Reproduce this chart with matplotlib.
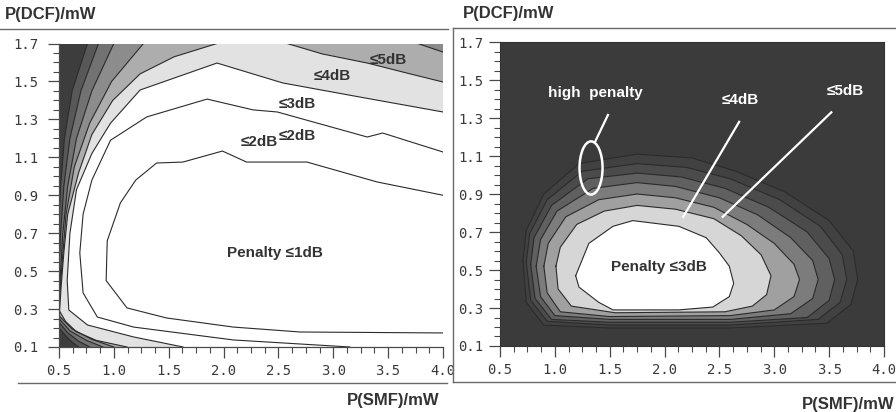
import numpy as np
import matplotlib
matplotlib.use("Agg")
import matplotlib.pyplot as plt
from matplotlib.patches import Ellipse
from matplotlib.lines import Line2D
from matplotlib.ticker import MultipleLocator, FormatStrFormatter

plt.rcParams["font.family"] = ["Liberation Sans", "DejaVu Sans"]

# ---- left panel: iso-penalty lines (P_SMF, P_DCF) ----
L1_X = [4.0, 2.70, 2.09, 1.48, 1.12, 0.93, 0.94, 1.06, 1.20, 1.39, 1.63, 1.99, 2.21, 2.76, 3.40, 4.0]
L1_Y = [0.174, 0.179, 0.205, 0.253, 0.306, 0.45, 0.66, 0.86, 0.98, 1.07, 1.075, 1.133, 1.075, 1.075, 0.97, 0.90]

L2_X = [3.15, 2.09, 1.18, 0.85, 0.72, 0.69, 0.72, 0.80, 0.97, 1.30, 1.85, 2.27, 2.49, 3.31, 3.45, 4.0]
L2_Y = [0.10, 0.137, 0.205, 0.258, 0.385, 0.596, 0.80, 0.98, 1.19, 1.313, 1.407, 1.35, 1.339, 1.207, 1.228, 1.128]

L3_X = [1.63, 1.18, 0.76, 0.59, 0.575, 0.60, 0.66, 0.80, 0.97, 1.24, 1.94, 2.54, 3.24, 4.0]
L3_Y = [0.10, 0.153, 0.216, 0.295, 0.45, 0.70, 0.93, 1.12, 1.28, 1.455, 1.597, 1.492, 1.418, 1.339]

L4_X = [1.94, 1.55, 1.24, 0.99, 0.80, 0.68, 0.58, 0.545, 0.52, 0.51, 0.505, 0.56, 0.66, 0.84, 1.12]
L4_Y = [1.70, 1.63, 1.54, 1.40, 1.22, 1.02, 0.80, 0.60, 0.42, 0.33, 0.29, 0.235, 0.18, 0.135, 0.10]
L4R_X = [2.58, 2.90, 3.31, 3.70, 4.0]
L4R_Y = [1.70, 1.645, 1.597, 1.54, 1.497]

L5_X = [1.27, 0.98, 0.78, 0.64, 0.565, 0.53, 0.51, 0.50]
L5_Y = [1.70, 1.50, 1.28, 1.05, 0.80, 0.55, 0.40, 0.32]
L5C_X = [0.50, 0.62, 0.80, 1.00]
L5C_Y = [0.265, 0.195, 0.14, 0.10]
L5R_X = [3.77, 4.0]
L5R_Y = [1.70, 1.655]

L6_X = [1.00, 0.80, 0.66, 0.58, 0.535, 0.51, 0.50]
L6_Y = [1.70, 1.45, 1.20, 0.95, 0.70, 0.45, 0.35]
L6C_X = [0.50, 0.60, 0.75, 0.90]
L6C_Y = [0.25, 0.185, 0.135, 0.10]

L7_X = [0.86, 0.70, 0.60, 0.545, 0.515, 0.50]
L7_Y = [1.70, 1.45, 1.20, 0.95, 0.70, 0.50]
L7C_X = [0.50, 0.58, 0.68, 0.78]
L7C_Y = [0.23, 0.175, 0.13, 0.10]

L8_X = [0.76, 0.62, 0.55, 0.515, 0.50]
L8_Y = [1.70, 1.45, 1.20, 0.95, 0.75]
L8C_X = [0.50, 0.56, 0.62, 0.68]
L8C_Y = [0.20, 0.16, 0.125, 0.10]

# ---- right panel: closed iso-penalty rings, 3 dB (inner) outwards ----
R3_X = [1.19, 1.31, 1.53, 1.71, 2.13, 2.38, 2.50, 2.59, 2.63, 2.59, 2.44, 2.13, 1.53, 1.40, 1.22]
R3_Y = [0.47, 0.64, 0.73, 0.76, 0.73, 0.67, 0.59, 0.52, 0.43, 0.36, 0.305, 0.29, 0.29, 0.33, 0.41]
R4_X = [1.01, 1.05, 1.20, 1.45, 1.75, 2.10, 2.45, 2.70, 2.88, 2.97, 2.93, 2.80, 2.55, 1.55, 1.15, 1.03]
R4_Y = [0.52, 0.62, 0.74, 0.81, 0.84, 0.82, 0.77, 0.68, 0.58, 0.47, 0.37, 0.31, 0.28, 0.275, 0.31, 0.40]
R5_X = [0.90, 0.94, 1.10, 1.40, 1.75, 2.10, 2.45, 2.75, 3.00, 3.18, 3.23, 3.18, 3.00, 2.60, 1.50, 1.05, 0.93]
R5_Y = [0.52, 0.64, 0.78, 0.87, 0.90, 0.88, 0.83, 0.74, 0.64, 0.53, 0.45, 0.36, 0.29, 0.26, 0.255, 0.28, 0.38]
R6_X = [0.83, 0.87, 1.02, 1.35, 1.75, 2.10, 2.50, 2.85, 3.15, 3.35, 3.40, 3.35, 3.15, 2.60, 1.50, 1.00, 0.87]
R6_Y = [0.52, 0.66, 0.81, 0.93, 0.96, 0.94, 0.88, 0.79, 0.67, 0.55, 0.45, 0.35, 0.27, 0.24, 0.24, 0.26, 0.36]
R7_X = [0.78, 0.81, 0.97, 1.30, 1.75, 2.15, 2.55, 2.95, 3.30, 3.50, 3.55, 3.50, 3.30, 2.60, 1.50, 0.97, 0.82]
R7_Y = [0.53, 0.67, 0.84, 0.98, 1.01, 0.99, 0.93, 0.83, 0.70, 0.56, 0.45, 0.34, 0.25, 0.225, 0.225, 0.24, 0.35]
R8_X = [0.74, 0.77, 0.93, 1.25, 1.75, 2.20, 2.60, 3.05, 3.42, 3.62, 3.66, 3.60, 3.40, 2.60, 1.50, 0.93, 0.78]
R8_Y = [0.54, 0.69, 0.87, 1.02, 1.06, 1.04, 0.98, 0.87, 0.73, 0.58, 0.45, 0.33, 0.24, 0.21, 0.21, 0.23, 0.34]
R9_X = [0.71, 0.74, 0.90, 1.22, 1.75, 2.25, 2.65, 3.10, 3.50, 3.72, 3.76, 3.70, 3.48, 2.60, 1.50, 0.90, 0.74]
R9_Y = [0.55, 0.71, 0.90, 1.06, 1.11, 1.09, 1.02, 0.91, 0.76, 0.60, 0.45, 0.32, 0.22, 0.195, 0.195, 0.21, 0.33]

XMIN, XMAX, YMIN, YMAX = 0.5, 4.0, 0.1, 1.7
LINE_C = "#2b2b2b"
TICK_C = "#4a4a4a"


def style_axes(ax, ypad):
    ax.set_xlim(XMIN, XMAX)
    ax.set_ylim(YMIN, YMAX)
    ax.xaxis.set_major_locator(MultipleLocator(0.5))
    ax.xaxis.set_minor_locator(MultipleLocator(0.125))
    ax.yaxis.set_major_locator(MultipleLocator(0.2, offset=0.1))
    ax.yaxis.set_minor_locator(MultipleLocator(0.05))
    ax.xaxis.set_major_formatter(FormatStrFormatter("%.1f"))
    ax.yaxis.set_major_formatter(FormatStrFormatter("%.1f"))
    ax.tick_params(which="major", length=8, width=0.9, color=TICK_C,
                   labelcolor="#3a3a3a", labelsize=10)
    ax.tick_params(which="minor", length=4.5, width=0.8, color=TICK_C)
    ax.tick_params(axis="y", which="major", pad=ypad)
    ax.tick_params(axis="x", which="major", pad=4)
    for lab in ax.get_xticklabels() + ax.get_yticklabels():
        lab.set_family("DejaVu Sans Mono")


def region(*pts):
    xs, ys = [], []
    for px, py in pts:
        xs += list(px)
        ys += list(py)
    return xs, ys


fig = plt.figure(figsize=(8.96, 4.12), dpi=100)
fig.patch.set_facecolor("white")

# ================= left panel =================
ax1 = fig.add_axes([0.0658, 0.1578, 0.4286, 0.7366])
ax1.set_facecolor("#3d3d3d")
corner = ([4.0, 4.0], [0.1, 1.7])
fills = [
    (region((L8_X, L8_Y), (L8C_X, L8C_Y), corner), "#585858"),
    (region((L7_X, L7_Y), (L7C_X, L7C_Y), corner), "#727272"),
    (region((L6_X, L6_Y), (L6C_X, L6C_Y), corner), "#8c8c8c"),
    (region((L5_X, L5_Y), (L5C_X, L5C_Y), ([4.0], [0.1]), (L5R_X[::-1], L5R_Y[::-1])), "#adadad"),
    (region((L4_X, L4_Y), ([4.0], [0.1]), (L4R_X[::-1], L4R_Y[::-1])), "#e2e2e2"),
    (region((L3_X, L3_Y), ([4.0], [0.1])), "white"),
]
for (fx, fy), col in fills:
    ax1.fill(fx, fy, color=col, lw=0, zorder=1)

for lx, ly in [(L1_X, L1_Y), (L2_X, L2_Y), (L3_X, L3_Y), (L4_X, L4_Y), (L4R_X, L4R_Y),
               (L5_X, L5_Y), (L5C_X, L5C_Y), (L5R_X, L5R_Y), (L6_X, L6_Y), (L6C_X, L6C_Y),
               (L7_X, L7_Y), (L7C_X, L7C_Y), (L8_X, L8_Y), (L8C_X, L8C_Y)]:
    ax1.plot(lx, ly, color=LINE_C, lw=0.8, zorder=2)

txt = dict(fontsize=11, fontweight="bold", color="#333333", ha="center", va="center", zorder=3)
ax1.text(3.50, 1.613, "≤5dB", **txt)
ax1.text(2.99, 1.53, "≤4dB", **txt)
ax1.text(2.67, 1.38, "≤3dB", **txt)
ax1.text(2.33, 1.18, "≤2dB", **txt)
ax1.text(2.67, 1.21, "≤2dB", **txt)
ax1.text(2.47, 0.595, "Penalty ≤1dB", **txt)

style_axes(ax1, ypad=7)
for s in ("top", "right"):
    ax1.spines[s].set_visible(False)
for s in ("left", "bottom"):
    ax1.spines[s].set_color(TICK_C)
    ax1.spines[s].set_linewidth(0.9)

# ================= right panel =================
ax2 = fig.add_axes([0.558, 0.1602, 0.4286, 0.7378])
ax2.set_facecolor("#3b3b3b")
rings = [
    (R9_X, R9_Y, "#414141"),
    (R8_X, R8_Y, "#4b4b4b"),
    (R7_X, R7_Y, "#606060"),
    (R6_X, R6_Y, "#7c7c7c"),
    (R5_X, R5_Y, "#a0a0a0"),
    (R4_X, R4_Y, "#d6d6d6"),
    (R3_X, R3_Y, "white"),
]
for rx, ry, col in rings:
    ax2.fill(rx, ry, color=col, lw=0, zorder=1)
    ax2.plot(rx + rx[:1], ry + ry[:1], color=LINE_C, lw=0.8, zorder=2)

ax2.text(1.95, 0.516, "Penalty ≤3dB", **txt)
wtxt = dict(fontsize=11, fontweight="bold", color="white", ha="center", va="center", zorder=4)
ax2.text(1.37, 1.43, "high  penalty", **wtxt)
ax2.text(2.69, 1.395, "≤4dB", **wtxt)
ax2.text(3.65, 1.44, "≤5dB", **wtxt)
ax2.add_patch(Ellipse((1.33, 1.037), 0.21, 0.28, fill=False, ec="white", lw=1.8, zorder=4))
ax2.plot([1.366, 1.484], [1.174, 1.316], color="white", lw=1.6, zorder=4)
ax2.plot([2.17, 2.68], [0.78, 1.28], color="white", lw=1.6, zorder=4)
ax2.plot([2.53, 3.52], [0.78, 1.33], color="white", lw=1.6, zorder=4)

style_axes(ax2, ypad=4)
for s in ax2.spines.values():
    s.set_color("#333333")
    s.set_linewidth(0.8)

# ---- axis titles and scan frame lines ----
ttl = dict(fontsize=12, fontweight="bold", color="#333333", va="center")
fig.text(0.0056, 0.966, "P(DCF)/mW", ha="left", **ttl)
fig.text(0.517, 0.968, "P(DCF)/mW", ha="left", **ttl)
fig.text(0.491, 0.029, "P(SMF)/mW", ha="right", **ttl)
fig.text(0.998, 0.017, "P(SMF)/mW", ha="right", **ttl)

fc = "#6a6a6a"
fig.add_artist(Line2D([0.0, 0.500], [0.9296, 0.9296], color=fc, lw=1.0))
fig.add_artist(Line2D([0.020, 0.499], [0.0704, 0.0704], color=fc, lw=1.0))
fig.add_artist(Line2D([0.5056, 1.0], [0.932, 0.932], color=fc, lw=1.0))
fig.add_artist(Line2D([0.5056, 1.0], [0.0728, 0.0728], color=fc, lw=1.0))
fig.add_artist(Line2D([0.5056, 0.5056], [0.0728, 0.932], color=fc, lw=1.0))

fig.savefig("out.png", dpi=100, facecolor="white")
